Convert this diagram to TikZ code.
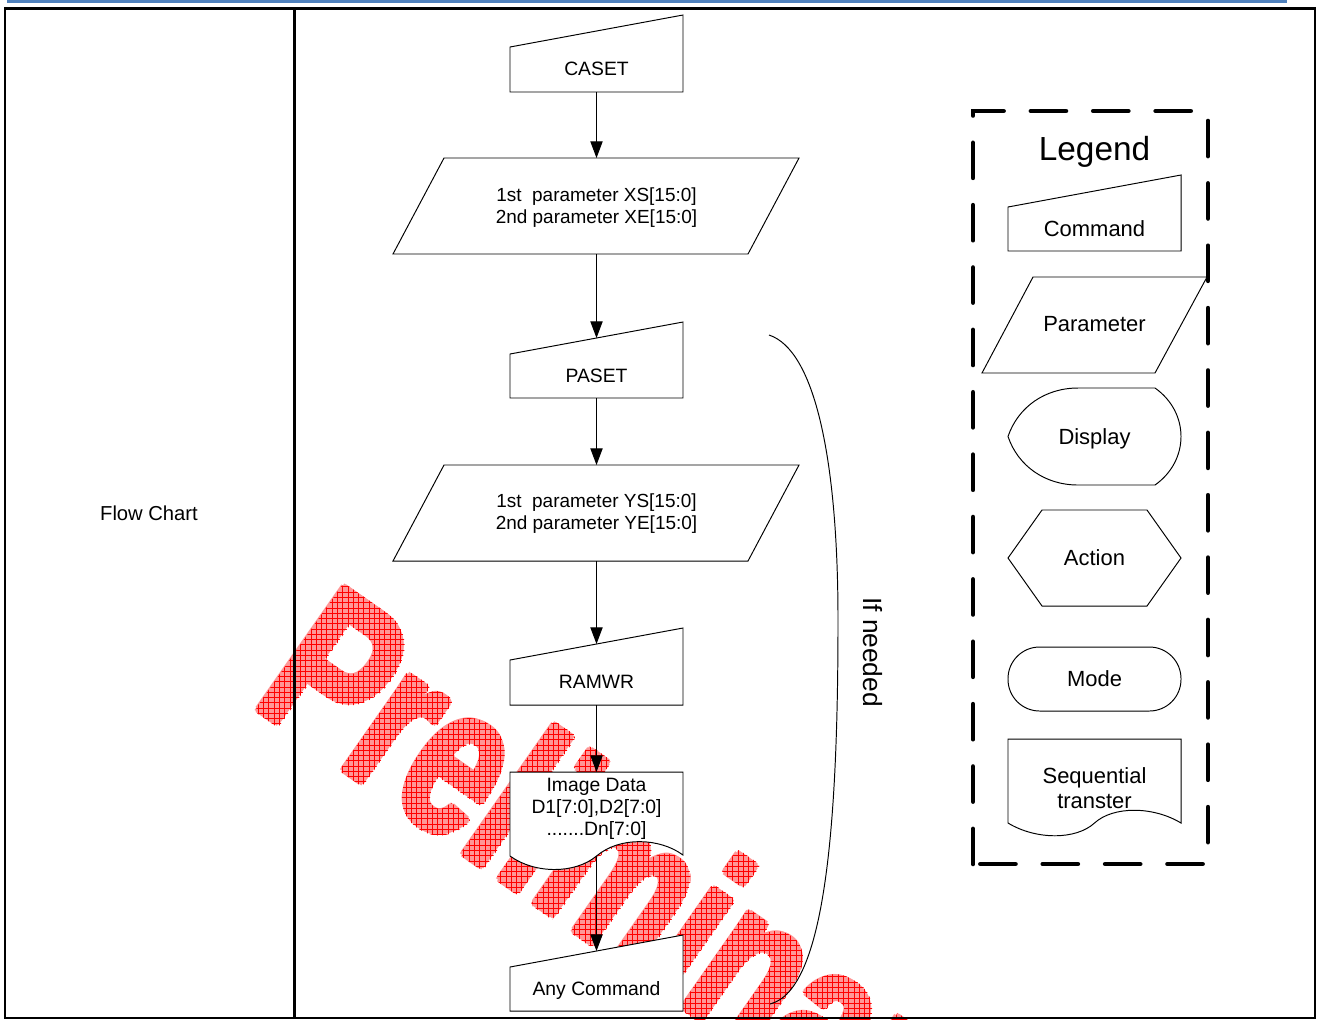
\documentclass[tikz,border=0pt]{standalone}
\usepackage{fontspec}
\setmainfont{Liberation Sans}
\newfontfamily\wmfont{Liberation Sans}
\usetikzlibrary{arrows.meta,patterns}
\definecolor{barblue}{RGB}{79,129,189}
\definecolor{wmpink}{RGB}{255,150,150}
\begin{document}
\begin{tikzpicture}[x=0.02cm,y=-0.02cm,
  shp/.style={draw=black, line width=0.55pt, fill=white},
  arr/.style={draw=black, line width=0.55pt, -{Triangle[length=9.5pt,width=7pt]}},
  ctext/.style={font=\fontsize{11}{13}\selectfont, inner sep=0pt, anchor=base},
  ptext/.style={font=\fontsize{10.8}{12.5}\selectfont, inner sep=0pt, align=center},
  ltext/.style={font=\fontsize{12.5}{14.2}\selectfont, inner sep=0pt, anchor=base},
  wm/.style={font=\wmfont\bfseries\fontsize{88.4}{90}\selectfont, inner sep=0pt,
             anchor=base west, rotate=-35, yscale=1.4},
  legendbox/.style={line width=2.6pt, dash pattern=on 20pt off 15.5pt, line cap=round}]
\useasboundingbox (0,0) rectangle (1321,1019);

% top bar
\fill[barblue] (7,0) rectangle (1287,2.8);

% watermark
\foreach \dx/\dy [count=\i] in {0/0,3.5/0,-3.5/0,0/3.5,0/-3.5,2.5/2.5,2.5/-2.5,-2.5/2.5,-2.5/-2.5}
  \node[wm, text=wmpink] (wma\i) at (250+\dx,704+\dy) {Preliminary};
\foreach \dx/\dy [count=\i] in {0/0,3.5/0,-3.5/0,0/3.5,0/-3.5,2.5/2.5,2.5/-2.5,-2.5/2.5,-2.5/-2.5}
  \node[wm] (wmb\i) at (250+\dx,704+\dy) {\pgfsetfillpattern{grid}{red}Preliminary};

% frame
\draw[line width=1.5pt] (5,8.5) rectangle (1315,1018);
\draw[line width=1.5pt] (294.5,8.5) -- (294.5,1018);
\node[font=\fontsize{11.5}{14}\selectfont, inner sep=0pt, anchor=base] (fc) at (149,520) {Flow Chart};

% flow chart shapes
\draw[shp] (510,47) -- (683,15) -- (683,92) -- (510,92) -- cycle;
\node[ctext] (caset) at (596.5,75) {CASET};
\coordinate (caset-b) at (596.5,92);

\draw[shp] (444,158) -- (799,158) -- (748,254) -- (393,254) -- cycle;
\node[ptext] (p1) at (596.5,208) {1st\ \ parameter XS[15:0]\\2nd parameter XE[15:0]};
\coordinate (p1-t) at (596.5,158);
\coordinate (p1-b) at (596.5,254);

\draw[shp] (510,354) -- (683,322) -- (683,398) -- (510,398) -- cycle;
\node[ctext] (paset) at (596.5,382) {PASET};
\coordinate (paset-t) at (596.5,338);
\coordinate (paset-b) at (596.5,398);

\draw[shp] (444,465) -- (799,465) -- (748,561) -- (393,561) -- cycle;
\node[ptext] (p2) at (596.5,514) {1st\ \ parameter YS[15:0]\\2nd parameter YE[15:0]};
\coordinate (p2-t) at (596.5,465);
\coordinate (p2-b) at (596.5,561);

\draw[shp] (510,660) -- (683,628) -- (683,705) -- (510,705) -- cycle;
\node[ctext] (ramwr) at (596.5,688) {RAMWR};
\coordinate (ramwr-t) at (596.5,644);
\coordinate (ramwr-b) at (596.5,705);

\draw[shp] (510,772) -- (683,772) -- (683,855) .. controls (660,838) and (620,836) .. (596.5,856)
   .. controls (575,874) and (535,874) .. (510,856) -- cycle;
\node[font=\fontsize{11}{12.5}\selectfont, inner sep=0pt, align=center] (img) at (596.5,809)
   {Image Data\\D1[7:0],D2[7:0]\\.......Dn[7:0]};
\coordinate (img-t) at (596.5,772);
\coordinate (img-b) at (596.5,856);

\draw[shp] (510,967) -- (683,935) -- (683,1011) -- (510,1011) -- cycle;
\node[ctext] (anyc) at (596.5,995) {Any Command};
\coordinate (anyc-t) at (596.5,951);

% arrows
\draw[arr] (caset-b) -- (p1-t);
\draw[arr] (p1-b) -- (paset-t);
\draw[arr] (paset-b) -- (p2-t);
\draw[arr] (p2-b) -- (ramwr-t);
\draw[arr] (ramwr-b) -- (img-t);
\draw[arr] (img-b) -- (anyc-t);

% if needed bracket
\coordinate (ifs) at (769,335);
\coordinate (ife) at (770,1004);
\draw[line width=0.55pt] (ifs) .. controls (815,350) and (838,460) .. (838,620)
   .. controls (838,820) and (826,990) .. (ife);
\node[font=\fontsize{15}{18}\selectfont, inner sep=0pt, rotate=-90] (ifn) at (873,652) {If needed};

% legend
\draw[legendbox] (973,864) -- (973,111) -- (1208,111) -- (1208,864) -- cycle;
\node[font=\fontsize{19}{22}\selectfont, inner sep=0pt, anchor=base] (lg) at (1094.5,160) {Legend};

\draw[shp] (1008,207) -- (1181,175) -- (1181,251) -- (1008,251) -- cycle;
\node[ltext] (lcmd) at (1094.5,236) {Command};

\draw[shp] (1033,277) -- (1207,277) -- (1155,373) -- (982,373) -- cycle;
\node[ltext] (lpar) at (1094.5,331) {Parameter};

\draw[shp] (1078,388) -- (1155,388) .. controls (1172,400) and (1181,418) .. (1181,436.5)
   .. controls (1181,455) and (1172,473) .. (1155,485) -- (1078,485)
   .. controls (1045,485) and (1018,466) .. (1008,436.5)
   .. controls (1018,407) and (1045,388) .. (1078,388) -- cycle;
\node[ltext] (ldisp) at (1094.5,444) {Display};

\draw[shp] (1008,558) -- (1042,510) -- (1147,510) -- (1181,558) -- (1147,606) -- (1042,606) -- cycle;
\node[ltext] (lact) at (1094.5,565) {Action};

\draw[shp, rounded corners=18pt] (1008,647) rectangle (1181,711);
\node[ltext] (lmode) at (1094.5,686) {Mode};

\draw[shp] (1008,739) -- (1181,739) -- (1181,823) .. controls (1153,806) and (1113,806) .. (1094.5,823)
   .. controls (1076,840) and (1036,840) .. (1008,823) -- cycle;
\node[font=\fontsize{12.5}{14.2}\selectfont, inner sep=0pt, align=center] (lseq) at (1094.5,788)
   {Sequential\\transter};
\end{tikzpicture}
\end{document}
